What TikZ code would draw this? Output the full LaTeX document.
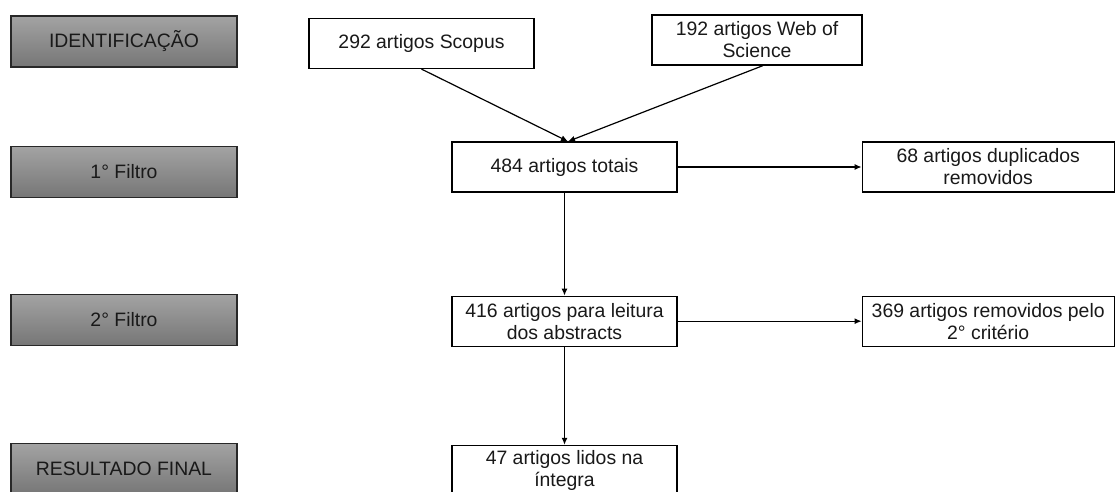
\documentclass[tikz,border=0pt]{standalone}
\usepackage{fontspec}
\setmainfont{Liberation Sans}
\usetikzlibrary{positioning,arrows.meta,shadings}

\definecolor{etapaTopo}{RGB}{163,163,163}
\definecolor{etapaBase}{RGB}{118,118,118}
\definecolor{etapaBorda}{RGB}{40,40,40}
\definecolor{etapaTexto}{RGB}{25,25,25}

\begin{document}
\begin{tikzpicture}[x=1pt,y=1pt,>={Latex[length=7pt,width=6pt]},
  etapa/.style={draw=etapaBorda, line width=1.6pt, top color=etapaTopo,
    bottom color=etapaBase, minimum width=226pt, minimum height=51pt,
    inner sep=0pt, text=etapaTexto, font=\fontsize{19.4}{22}\selectfont},
  caixa/.style={draw, line width=1.2pt, fill=white, minimum width=225pt,
    minimum height=50pt, inner sep=0pt, align=center, text=black!90,
    font=\fontsize{19.4}{22}\selectfont},
  seta/.style={->, line width=1.2pt},
  node distance=103pt and 184pt]

\useasboundingbox (0,0) rectangle (1115,491);
\clip (0,0) rectangle (1115,491);

% etapas
\node[etapa] (ident) at (124,449.5) {IDENTIFICAÇÃO};
\node[etapa] (filtro1) at (124,319) {1° Filtro};
\node[etapa] (filtro2) at (124,171) {2° Filtro};
\node[etapa] (resultado) at (124,22) {RESULTADO FINAL};

% bases
\node[caixa] (scopus) at (421.5,447.5) {292 artigos Scopus};
\node[caixa, minimum width=210pt] (wos) at (757,451) {192 artigos Web of\\Science};

\node[caixa] (totais) at (564.5,324) {484 artigos totais};
\node[caixa, minimum width=252pt, right=of totais] (duplicados) {68 artigos duplicados\\removidos};

\node[caixa, below=of totais] (abstracts) {416 artigos para leitura\\dos abstracts};
\node[caixa, minimum width=252pt, right=of abstracts] (removidos) {369 artigos removidos pelo\\2° critério};

\node[caixa, below=98pt of abstracts] (final) {47 artigos lidos na\\íntegra};

\draw[seta] (scopus.south) -- ([xshift=3.5pt]totais.north);
\draw[seta] ([xshift=6pt]wos.south) -- ([xshift=3.5pt]totais.north);
\draw[seta] (totais) -- (duplicados);
\draw[seta] (totais) -- (abstracts);
\draw[seta] (abstracts) -- (removidos);
\draw[seta] (abstracts) -- (final);

\end{tikzpicture}
\end{document}
